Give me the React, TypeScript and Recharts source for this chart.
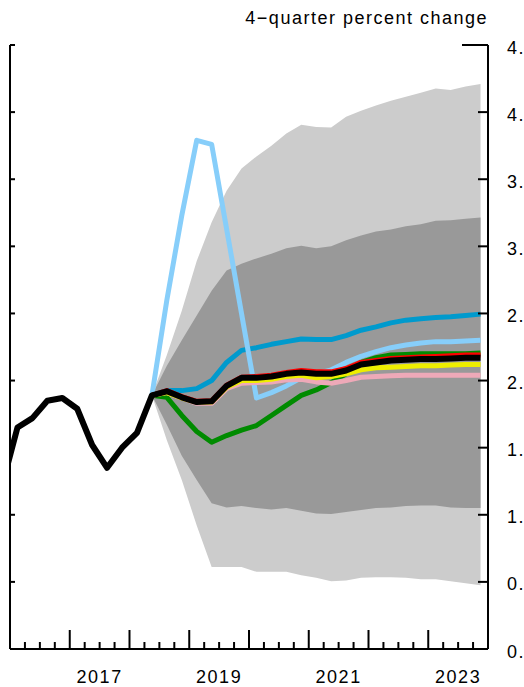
import { ComposedChart, Area, Line, XAxis, YAxis } from "recharts";

// quarterly points plotted at mid-quarter; first one (2015Q4) falls left of the axis and is clipped
const FIRST_QTR = 2015.875;
const HIST_LEN = 11; // 2015Q4 .. 2018Q2

const history = [1.23, 1.65, 1.72, 1.85, 1.87, 1.79, 1.52, 1.35, 1.5, 1.61, 1.89];

// forecasts, 2018Q2 .. 2023Q4
const baseline = [1.89, 1.92, 1.875, 1.84, 1.845, 1.96, 2.02, 2.02, 2.03, 2.05, 2.06, 2.05, 2.05, 2.075, 2.12, 2.135, 2.15, 2.155, 2.16, 2.16, 2.165, 2.17, 2.17];
const redPath = [1.89, 1.925, 1.88, 1.845, 1.85, 1.965, 2.025, 2.03, 2.04, 2.06, 2.075, 2.065, 2.065, 2.09, 2.135, 2.15, 2.165, 2.17, 2.175, 2.18, 2.185, 2.19, 2.19];
const darkBluePath = [1.89, 1.925, 1.925, 1.94, 2.0, 2.135, 2.225, 2.245, 2.27, 2.29, 2.31, 2.305, 2.305, 2.335, 2.375, 2.4, 2.43, 2.45, 2.46, 2.47, 2.475, 2.485, 2.495];
const lightBluePath = [1.89, 2.6, 3.23, 3.79, 3.76, 3.13, 2.5, 1.87, 1.91, 1.96, 2.02, 2.05, 2.08, 2.135, 2.18, 2.215, 2.245, 2.265, 2.28, 2.29, 2.29, 2.295, 2.3];
const greenPath = [1.89, 1.875, 1.74, 1.62, 1.54, 1.59, 1.63, 1.665, 1.74, 1.815, 1.89, 1.93, 1.985, 2.05, 2.135, 2.17, 2.19, 2.195, 2.2, 2.2, 2.2, 2.2, 2.205];
const yellowPath = [1.89, 1.91, 1.87, 1.84, 1.84, 1.95, 2.0, 2.0, 2.01, 2.03, 2.04, 2.02, 2.03, 2.05, 2.08, 2.095, 2.1, 2.105, 2.11, 2.11, 2.115, 2.12, 2.12];
const pinkPath = [1.89, 1.91, 1.87, 1.83, 1.83, 1.94, 1.98, 1.985, 1.99, 2.005, 2.01, 1.99, 1.98, 2.0, 2.025, 2.03, 2.035, 2.04, 2.04, 2.04, 2.04, 2.04, 2.04];

// confidence bands
const outerLow = [1.89, 1.555, 1.26, 0.92, 0.61, 0.61, 0.61, 0.575, 0.575, 0.575, 0.55, 0.53, 0.505, 0.51, 0.53, 0.535, 0.535, 0.53, 0.52, 0.52, 0.505, 0.49, 0.475];
const outerHigh = [1.89, 2.19, 2.52, 2.89, 3.18, 3.415, 3.58, 3.67, 3.75, 3.84, 3.905, 3.89, 3.885, 3.965, 4.01, 4.05, 4.085, 4.115, 4.145, 4.175, 4.165, 4.19, 4.21];
const innerLow = [1.89, 1.67, 1.44, 1.26, 1.085, 1.055, 1.065, 1.05, 1.04, 1.05, 1.03, 1.01, 1.005, 1.02, 1.035, 1.05, 1.055, 1.065, 1.07, 1.07, 1.055, 1.05, 1.05];
const innerHigh = [1.89, 2.11, 2.3, 2.485, 2.67, 2.82, 2.87, 2.91, 2.945, 2.985, 3.005, 2.985, 3.0, 3.045, 3.08, 3.11, 3.125, 3.15, 3.165, 3.19, 3.195, 3.205, 3.215];

const Y_TICKS = [0, 0.5, 1, 1.5, 2, 2.5, 3, 3.5, 4, 4.5];
const YEAR_LABELS = ["2017", "2019", "2021", "2023"];

const quarterTicks: number[] = [];
for (let t = 2016; t <= 2024; t += 0.25) quarterTicks.push(t);

const data = Array.from({ length: HIST_LEN + baseline.length - 1 }, (_, k) => {
  const f = k - (HIST_LEN - 1);
  const row: Record<string, any> = { t: FIRST_QTR + k * 0.25 };
  row.black = k < HIST_LEN ? history[k] : baseline[f];
  if (f >= 0) {
    row.outer = [outerLow[f], outerHigh[f]];
    row.inner = [innerLow[f], innerHigh[f]];
    row.red = redPath[f];
    row.darkBlue = darkBluePath[f];
    row.lightBlue = lightBluePath[f];
    row.green = greenPath[f];
    row.yellow = yellowPath[f];
    row.pink = pinkPath[f];
  }
  return row;
});

const FONT = "'Liberation Sans', Arial, sans-serif";
const textStyle = { fontFamily: FONT, fontSize: 18, letterSpacing: 1.5 };

const XTick = ({ x, y, payload }: any) => {
  const v = payload.value;
  const major = Math.abs(v - Math.round(v)) < 1e-6;
  const label = YEAR_LABELS.find((l) => Math.abs(Number(l) + 0.5 - v) < 1e-6);
  return (
    <g>
      <line x1={x} x2={x} y1={y} y2={y - (major ? 19 : 7)} stroke="#000" strokeWidth={2} />
      {label && (
        <text x={x} y={y + 34} textAnchor="middle" fill="#000" style={textStyle}>
          {label}
        </text>
      )}
    </g>
  );
};

const RightTick = ({ x, y, payload }: any) => (
  <g>
    <line x1={x} x2={x - (payload.value === 4.5 ? 26 : 10)} y1={y} y2={y} stroke="#000" strokeWidth={2} />
    <text x={x + 19} y={y + 8.5} fill="#000" style={textStyle}>
      {payload.value.toFixed(1)}
    </text>
  </g>
);

const LeftTick = ({ x, y }: any) => (
  <line x1={x} x2={x + 5} y1={y} y2={y} stroke="#000" strokeWidth={2} />
);

const lineProps = {
  type: "linear" as const,
  dot: false,
  activeDot: false,
  isAnimationActive: false,
  yAxisId: "r",
  strokeLinejoin: "round" as const,
};

export default function App() {
  return (
    <div style={{ position: "absolute", left: 0, top: 0 }}>
      <ComposedChart
        width={524}
        height={687}
        data={data}
        margin={{ top: 45, right: 35, bottom: 37, left: 9 }}
      >
        <XAxis
          dataKey="t"
          type="number"
          domain={[2016, 2024]}
          allowDataOverflow
          ticks={quarterTicks}
          interval={0}
          tick={<XTick />}
          tickLine={false}
          tickSize={0}
          tickMargin={0}
          height={1}
          axisLine={{ stroke: "#000", strokeWidth: 2 }}
        />
        <YAxis
          yAxisId="r"
          orientation="right"
          type="number"
          domain={[0, 4.5]}
          allowDataOverflow
          ticks={Y_TICKS}
          interval={0}
          tick={<RightTick />}
          tickLine={false}
          tickSize={0}
          tickMargin={0}
          width={1}
          axisLine={{ stroke: "#000", strokeWidth: 2 }}
        />
        <YAxis
          yAxisId="l"
          orientation="left"
          type="number"
          domain={[0, 4.5]}
          allowDataOverflow
          ticks={Y_TICKS}
          interval={0}
          tick={<LeftTick />}
          tickLine={false}
          tickSize={0}
          tickMargin={0}
          width={1}
          axisLine={{ stroke: "#000", strokeWidth: 2 }}
        />
        <Area yAxisId="r" type="linear" dataKey="outer" stroke="none" fill="#cccccc" fillOpacity={1} isAnimationActive={false} dot={false} activeDot={false} />
        <Area yAxisId="r" type="linear" dataKey="inner" stroke="none" fill="#999999" fillOpacity={1} isAnimationActive={false} dot={false} activeDot={false} />
        <Line {...lineProps} dataKey="darkBlue" stroke="#009acd" strokeWidth={5} />
        <Line {...lineProps} dataKey="green" stroke="#008b00" strokeWidth={5} />
        <Line {...lineProps} dataKey="lightBlue" stroke="#87cefa" strokeWidth={5} />
        <Line {...lineProps} dataKey="pink" stroke="#eea9b8" strokeWidth={5} />
        <Line {...lineProps} dataKey="yellow" stroke="#eeee00" strokeWidth={5} />
        <Line {...lineProps} dataKey="red" stroke="#ff0000" strokeWidth={5} />
        <Line {...lineProps} dataKey="black" stroke="#000000" strokeWidth={6} />
        <text x={488} y={24} textAnchor="end" fill="#000" style={textStyle}>
          4−quarter percent change
        </text>
      </ComposedChart>
    </div>
  );
}
